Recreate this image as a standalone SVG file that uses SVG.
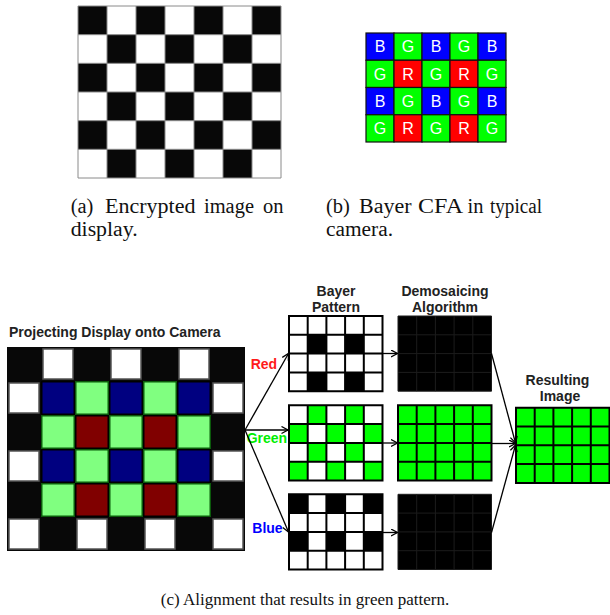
<svg xmlns="http://www.w3.org/2000/svg" xmlns:xlink="http://www.w3.org/1999/xlink" width="610" height="615" viewBox="0 0 610 615">
<style>
.cap{font-family:"Liberation Serif","Times New Roman",serif;font-size:20.5px;fill:#111}
.capc{font-family:"Liberation Serif","Times New Roman",serif;font-size:17px;fill:#111}
.lbl{font-family:"Liberation Sans",Arial,sans-serif;font-weight:bold;font-size:14px;fill:#222}
.bl{font-family:"Liberation Sans",Arial,sans-serif;font-size:16px;fill:#fff;text-anchor:middle}
.k{fill:#080808}
.gl{stroke:#8a8a8a;stroke-width:1;fill:none}
.bB{fill:#0000ff;stroke:#111;stroke-width:1.2}
.bG{fill:#00ff00;stroke:#111;stroke-width:1.2}
.bR{fill:#ff0000;stroke:#111;stroke-width:1.2}
.pw{fill:#fff;stroke:#555;stroke-width:1.5}
.pb{fill:#000080;stroke:#000;stroke-width:1.5}
.pg{fill:#80ff80;stroke:#0b5a0b;stroke-width:1.5}
.pr{fill:#800000;stroke:#000;stroke-width:1.5}
.gw{fill:#fff}
.gk{fill:#000}
.gg{fill:#00ff00}
.grid{fill:none;stroke:#000;stroke-width:2}
.gridf{fill:none;stroke:#1c1c1c;stroke-width:1}
.conn line{stroke:#000;stroke-width:1.3;marker-end:url(#ah)}
</style>
<defs>
<marker id="ah" markerUnits="userSpaceOnUse" markerWidth="10" markerHeight="10" refX="7" refY="4" orient="auto">
<path d="M0.5,0.5 L7,4 L0.5,7.5" fill="none" stroke="#000" stroke-width="1.3"/>
</marker>
<path id="g54" d="M0,0 H93.5 V75.2 H0 Z M18.7,0 V75.2 M37.4,0 V75.2 M56.1,0 V75.2 M74.8,0 V75.2 M0,18.8 H93.5 M0,37.6 H93.5 M0,56.4 H93.5"/>
</defs>

<!-- (a) checkerboard -->
<g id="checkerboard">
<rect x="78" y="6" width="203" height="172" fill="#fff"/>
<rect class="k" x="78" y="6" width="29" height="28.7"/><rect class="k" x="136" y="6" width="29" height="28.7"/><rect class="k" x="194" y="6" width="29" height="28.7"/><rect class="k" x="252" y="6" width="29" height="28.7"/>
<rect class="k" x="107" y="34.7" width="29" height="28.6"/><rect class="k" x="165" y="34.7" width="29" height="28.6"/><rect class="k" x="223" y="34.7" width="29" height="28.6"/>
<rect class="k" x="78" y="63.3" width="29" height="28.7"/><rect class="k" x="136" y="63.3" width="29" height="28.7"/><rect class="k" x="194" y="63.3" width="29" height="28.7"/><rect class="k" x="252" y="63.3" width="29" height="28.7"/>
<rect class="k" x="107" y="92" width="29" height="28.7"/><rect class="k" x="165" y="92" width="29" height="28.7"/><rect class="k" x="223" y="92" width="29" height="28.7"/>
<rect class="k" x="78" y="120.7" width="29" height="28.6"/><rect class="k" x="136" y="120.7" width="29" height="28.6"/><rect class="k" x="194" y="120.7" width="29" height="28.6"/><rect class="k" x="252" y="120.7" width="29" height="28.6"/>
<rect class="k" x="107" y="149.3" width="29" height="28.7"/><rect class="k" x="165" y="149.3" width="29" height="28.7"/><rect class="k" x="223" y="149.3" width="29" height="28.7"/>
<path class="gl" d="M78,6 H281 V178 H78 Z M107,6 V178 M136,6 V178 M165,6 V178 M194,6 V178 M223,6 V178 M252,6 V178 M78,34.7 H281 M78,63.3 H281 M78,92 H281 M78,120.7 H281 M78,149.3 H281"/>
</g>

<!-- (b) Bayer CFA -->
<g id="bayer-cfa">
<rect class="bB" x="366" y="33" width="28" height="27.25"/><rect class="bG" x="394" y="33" width="28" height="27.25"/><rect class="bB" x="422" y="33" width="28" height="27.25"/><rect class="bG" x="450" y="33" width="28" height="27.25"/><rect class="bB" x="478" y="33" width="28" height="27.25"/>
<rect class="bG" x="366" y="60.25" width="28" height="27.25"/><rect class="bR" x="394" y="60.25" width="28" height="27.25"/><rect class="bG" x="422" y="60.25" width="28" height="27.25"/><rect class="bR" x="450" y="60.25" width="28" height="27.25"/><rect class="bG" x="478" y="60.25" width="28" height="27.25"/>
<rect class="bB" x="366" y="87.5" width="28" height="27.25"/><rect class="bG" x="394" y="87.5" width="28" height="27.25"/><rect class="bB" x="422" y="87.5" width="28" height="27.25"/><rect class="bG" x="450" y="87.5" width="28" height="27.25"/><rect class="bB" x="478" y="87.5" width="28" height="27.25"/>
<rect class="bG" x="366" y="114.75" width="28" height="27.25"/><rect class="bR" x="394" y="114.75" width="28" height="27.25"/><rect class="bG" x="422" y="114.75" width="28" height="27.25"/><rect class="bR" x="450" y="114.75" width="28" height="27.25"/><rect class="bG" x="478" y="114.75" width="28" height="27.25"/>
<text class="bl" x="380" y="52.4">B</text><text class="bl" x="408" y="52.4">G</text><text class="bl" x="436" y="52.4">B</text><text class="bl" x="464" y="52.4">G</text><text class="bl" x="492" y="52.4">B</text>
<text class="bl" x="380" y="79.7">G</text><text class="bl" x="408" y="79.7">R</text><text class="bl" x="436" y="79.7">G</text><text class="bl" x="464" y="79.7">R</text><text class="bl" x="492" y="79.7">G</text>
<text class="bl" x="380" y="106.9">B</text><text class="bl" x="408" y="106.9">G</text><text class="bl" x="436" y="106.9">B</text><text class="bl" x="464" y="106.9">G</text><text class="bl" x="492" y="106.9">B</text>
<text class="bl" x="380" y="134.2">G</text><text class="bl" x="408" y="134.2">R</text><text class="bl" x="436" y="134.2">G</text><text class="bl" x="464" y="134.2">R</text><text class="bl" x="492" y="134.2">G</text>
</g>

<!-- captions a, b -->
<g id="caption-a">
<text class="cap" x="70.7" y="212.5">(a)</text>
<text class="cap" x="105" y="212.5" textLength="90.5" lengthAdjust="spacingAndGlyphs">Encrypted</text>
<text class="cap" x="204" y="212.5" textLength="50" lengthAdjust="spacingAndGlyphs">image</text>
<text class="cap" x="263" y="212.5">on</text>
<text class="cap" x="70.7" y="236" textLength="67" lengthAdjust="spacingAndGlyphs">display.</text>
</g>
<g id="caption-b">
<text class="cap" x="326" y="212.5">(b)</text>
<text class="cap" x="359" y="212.5" textLength="52.5" lengthAdjust="spacingAndGlyphs">Bayer</text>
<text class="cap" x="418" y="212.5" textLength="45" lengthAdjust="spacingAndGlyphs">CFA</text>
<text class="cap" x="467.5" y="212.5">in</text>
<text class="cap" x="490" y="212.5" textLength="52" lengthAdjust="spacingAndGlyphs">typical</text>
<text class="cap" x="326" y="236" textLength="67" lengthAdjust="spacingAndGlyphs">camera.</text>
</g>

<!-- projecting display onto camera -->
<g id="projection">
<text class="lbl" x="9" y="337">Projecting Display onto Camera</text>
<rect x="7" y="347" width="238" height="204" fill="#080808"/>
<rect class="pw" x="43" y="349" width="30" height="30"/><rect class="pw" x="111" y="349" width="30" height="30"/><rect class="pw" x="179" y="349" width="30" height="30"/>
<rect class="pw" x="9" y="383" width="30" height="30"/><rect class="pb" x="41.75" y="381.75" width="32.5" height="32.5"/><rect class="pg" x="75.75" y="381.75" width="32.5" height="32.5"/><rect class="pb" x="109.75" y="381.75" width="32.5" height="32.5"/><rect class="pg" x="143.75" y="381.75" width="32.5" height="32.5"/><rect class="pb" x="177.75" y="381.75" width="32.5" height="32.5"/><rect class="pw" x="213" y="383" width="30" height="30"/>
<rect class="pg" x="41.75" y="415.75" width="32.5" height="32.5"/><rect class="pr" x="75.75" y="415.75" width="32.5" height="32.5"/><rect class="pg" x="109.75" y="415.75" width="32.5" height="32.5"/><rect class="pr" x="143.75" y="415.75" width="32.5" height="32.5"/><rect class="pg" x="177.75" y="415.75" width="32.5" height="32.5"/>
<rect class="pw" x="9" y="451" width="30" height="30"/><rect class="pb" x="41.75" y="449.75" width="32.5" height="32.5"/><rect class="pg" x="75.75" y="449.75" width="32.5" height="32.5"/><rect class="pb" x="109.75" y="449.75" width="32.5" height="32.5"/><rect class="pg" x="143.75" y="449.75" width="32.5" height="32.5"/><rect class="pb" x="177.75" y="449.75" width="32.5" height="32.5"/><rect class="pw" x="213" y="451" width="30" height="30"/>
<rect class="pg" x="41.75" y="483.75" width="32.5" height="32.5"/><rect class="pr" x="75.75" y="483.75" width="32.5" height="32.5"/><rect class="pg" x="109.75" y="483.75" width="32.5" height="32.5"/><rect class="pr" x="143.75" y="483.75" width="32.5" height="32.5"/><rect class="pg" x="177.75" y="483.75" width="32.5" height="32.5"/>
<rect class="pw" x="9" y="519" width="30" height="30"/><rect class="pw" x="77" y="519" width="30" height="30"/><rect class="pw" x="145" y="519" width="30" height="30"/><rect class="pw" x="213" y="519" width="30" height="30"/>
</g>

<!-- channel labels -->
<g id="channel-labels">
<text class="lbl" x="250.7" y="369" style="fill:#ff1a1a">Red</text>
<text class="lbl" x="246.7" y="443" style="fill:#00ee00">Green</text>
<text class="lbl" x="252.3" y="533" style="fill:#0000ff">Blue</text>
</g>

<!-- Bayer pattern -->
<g id="bayer-pattern">
<text class="lbl" x="336" y="296" text-anchor="middle">Bayer</text>
<text class="lbl" x="336" y="312" text-anchor="middle">Pattern</text>
<g id="bayer-red" transform="translate(289,316)">
<rect class="gw" width="93.5" height="75.2"/>
<rect class="gk" x="18.7" y="18.8" width="18.7" height="18.8"/><rect class="gk" x="56.1" y="18.8" width="18.7" height="18.8"/>
<rect class="gk" x="18.7" y="56.4" width="18.7" height="18.8"/><rect class="gk" x="56.1" y="56.4" width="18.7" height="18.8"/>
<use xlink:href="#g54" class="grid"/>
</g>
<g id="bayer-green" transform="translate(289,405.3)">
<rect class="gw" width="93.5" height="75.2"/>
<rect class="gg" x="18.7" y="0" width="18.7" height="18.8"/><rect class="gg" x="56.1" y="0" width="18.7" height="18.8"/>
<rect class="gg" x="0" y="18.8" width="18.7" height="18.8"/><rect class="gg" x="37.4" y="18.8" width="18.7" height="18.8"/><rect class="gg" x="74.8" y="18.8" width="18.7" height="18.8"/>
<rect class="gg" x="18.7" y="37.6" width="18.7" height="18.8"/><rect class="gg" x="56.1" y="37.6" width="18.7" height="18.8"/>
<rect class="gg" x="0" y="56.4" width="18.7" height="18.8"/><rect class="gg" x="37.4" y="56.4" width="18.7" height="18.8"/><rect class="gg" x="74.8" y="56.4" width="18.7" height="18.8"/>
<use xlink:href="#g54" class="grid"/>
</g>
<g id="bayer-blue" transform="translate(289,494.3)">
<rect class="gw" width="93.5" height="75.2"/>
<rect class="gk" x="0" y="0" width="18.7" height="18.8"/><rect class="gk" x="37.4" y="0" width="18.7" height="18.8"/><rect class="gk" x="74.8" y="0" width="18.7" height="18.8"/>
<rect class="gk" x="0" y="37.6" width="18.7" height="18.8"/><rect class="gk" x="37.4" y="37.6" width="18.7" height="18.8"/><rect class="gk" x="74.8" y="37.6" width="18.7" height="18.8"/>
<use xlink:href="#g54" class="grid"/>
</g>
</g>

<!-- Demosaicing -->
<g id="demosaicing">
<text class="lbl" x="445" y="296" text-anchor="middle">Demosaicing</text>
<text class="lbl" x="445" y="312" text-anchor="middle">Algorithm</text>
<g id="demo-red" transform="translate(398,316)">
<rect class="gk" width="93.5" height="75.2"/>
<use xlink:href="#g54" class="gridf"/>
</g>
<g id="demo-green" transform="translate(398,405.3)">
<rect class="gg" width="93.5" height="75.2"/>
<use xlink:href="#g54" class="grid"/>
</g>
<g id="demo-blue" transform="translate(398,494.3)">
<rect class="gk" width="93.5" height="75.2"/>
<use xlink:href="#g54" class="gridf"/>
</g>
</g>

<!-- Result -->
<g id="result">
<text class="lbl" x="557.5" y="385" text-anchor="middle">Resulting</text>
<text class="lbl" x="560" y="400.5" text-anchor="middle">Image</text>
<g transform="translate(516,407.7)">
<rect class="gg" width="93.5" height="75.2"/>
<use xlink:href="#g54" class="grid"/>
</g>
</g>

<!-- connectors -->
<g id="connectors" class="conn">
<line x1="245" y1="430" x2="288.5" y2="353.5"/>
<line x1="245" y1="430" x2="288" y2="430"/>
<line x1="245" y1="430" x2="288.5" y2="532"/>
<line x1="382.5" y1="353.5" x2="397.5" y2="353.5"/>
<line x1="382.5" y1="443" x2="397.5" y2="443"/>
<line x1="382.5" y1="532.5" x2="397.5" y2="532.5"/>
<line x1="491.5" y1="353.5" x2="515.5" y2="443"/>
<line x1="491.5" y1="443.5" x2="515.5" y2="443.5"/>
<line x1="491.5" y1="532.5" x2="515.5" y2="445"/>
</g>

<g id="caption-c">
<text class="capc" x="305" y="605" text-anchor="middle">(c)  Alignment that results in green pattern.</text>
</g>
</svg>
